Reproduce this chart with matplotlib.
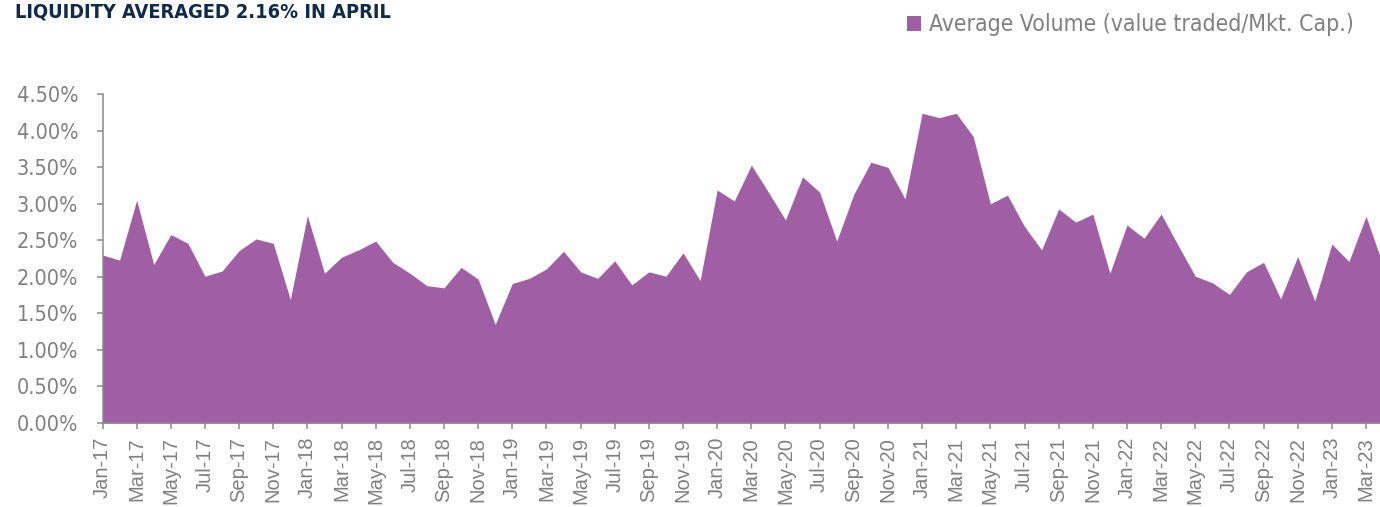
import matplotlib
matplotlib.use("Agg")
import matplotlib.pyplot as plt
from matplotlib import font_manager as fm
import numpy as np

# monthly liquidity, Jan-17 .. Apr-23 (% of market cap traded)
months = ["Jan", "Feb", "Mar", "Apr", "May", "Jun",
          "Jul", "Aug", "Sep", "Oct", "Nov", "Dec"]
years = ["17", "18", "19", "20", "21", "22", "23"]
labels = [f"{m}-{y}" for y in years for m in months][:76]

avg_volume = [
    2.30, 2.23, 3.05, 2.17, 2.58, 2.46, 2.01, 2.08, 2.36, 2.52, 2.46, 1.69,
    2.84, 2.05, 2.27, 2.37, 2.49, 2.20, 2.05, 1.88, 1.85, 2.13, 1.97, 1.35,
    1.91, 1.98, 2.11, 2.35, 2.07, 1.98, 2.22, 1.89, 2.07, 2.01, 2.33, 1.95,
    3.19, 3.04, 3.53, 3.16, 2.78, 3.37, 3.16, 2.49, 3.13, 3.57, 3.50, 3.07,
    4.24, 4.18, 4.24, 3.92, 3.00, 3.12, 2.69, 2.37, 2.93, 2.75, 2.86, 2.05,
    2.71, 2.53, 2.86, 2.43, 2.01, 1.92, 1.76, 2.07, 2.20, 1.70, 2.28, 1.67,
    2.45, 2.21, 2.83, 2.16,
]
y_ticks = [0, 0.5, 1.0, 1.5, 2.0, 2.5, 3.0, 3.5, 4.0, 4.5]

title = "LIQUIDITY AVERAGED 2.16% IN APRIL"
series_name = "Average Volume (value traded/Mkt. Cap.)"

PURPLE = "#a05fa5"
GREY = "#808080"
AXIS = "#8a8a8a"
NAVY = "#0f2a4a"


def cond(size, weight="normal"):
    # DejaVu Sans Condensed is the narrowest face we have
    return fm.FontProperties(family="DejaVu Sans", stretch="condensed",
                             size=size, weight=weight)


fig = plt.figure(figsize=(13.8, 5.07), dpi=100)
ax = fig.add_axes([102.5 / 1380, 84 / 507, 1 - 102.5 / 1380, 328.7 / 507])

x = np.arange(len(avg_volume))
area = ax.fill_between(x, 0, avg_volume, color=PURPLE, lw=0, label=series_name)

ax.set_xlim(0, 74.82)
ax.set_ylim(0, 4.5)

ax.set_yticks(y_ticks)
ax.set_yticklabels([f"{v:.2f}%" for v in y_ticks], fontproperties=cond(15.5),
                   color=GREY)
ax.set_xticks(x[::2])
ax.set_xticklabels(labels[::2], rotation=90, family="Liberation Sans",
                   fontsize=14.5, color=GREY)

ax.tick_params(axis="y", direction="out", length=4.5, width=1.1,
               color=AXIS, pad=13)
ax.tick_params(axis="x", direction="out", length=4, width=1.1,
               color=AXIS, pad=6)
for s in ["top", "right"]:
    ax.spines[s].set_visible(False)
for s in ["left", "bottom"]:
    ax.spines[s].set_color(AXIS)
    ax.spines[s].set_linewidth(1.1)

fig.text(15 / 1380, 1 - 17 / 507, title, fontproperties=cond(14.3, "bold"),
         color=NAVY, va="baseline", ha="left")

fig.legend(handles=[area], labels=[series_name], loc="center right",
           bbox_to_anchor=(1354 / 1380, 1 - 25 / 507), frameon=False,
           prop=cond(16.5), labelcolor=GREY,
           handlelength=0.6, handleheight=0.6, handletextpad=0.35,
           borderpad=0, borderaxespad=0)

fig.savefig("out.png", dpi=100)
